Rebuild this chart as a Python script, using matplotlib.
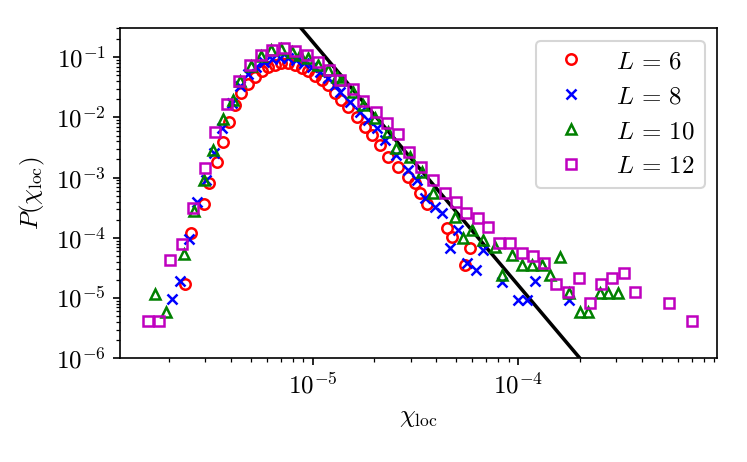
import numpy as np
import matplotlib
matplotlib.use("Agg")
import matplotlib.pyplot as plt

plt.rcParams['font.family'] = 'serif'
plt.rcParams['font.serif'] = ['cmr10']
plt.rcParams['mathtext.fontset'] = 'cm'
plt.rcParams['axes.formatter.use_mathtext'] = True
plt.rcParams['font.size'] = 12

# L = 6
x_L6 = [2.39e-6, 2.55e-6, 2.97e-6, 3.14e-6, 3.41e-6, 3.65e-6, 3.92e-6, 4.20e-6, 4.51e-6, 4.86e-6,
        5.24e-6, 5.65e-6, 6.08e-6, 6.55e-6, 7.06e-6, 7.60e-6, 8.20e-6, 8.84e-6, 9.52e-6, 1.026e-5,
        1.106e-5, 1.19e-5, 1.28e-5, 1.38e-5, 1.49e-5, 1.64e-5, 1.80e-5, 1.94e-5, 2.13e-5, 2.33e-5,
        2.61e-5, 2.92e-5, 3.15e-5, 3.33e-5, 3.59e-5, 4.50e-5, 4.75e-5, 5.52e-5, 5.84e-5]
y_L6 = [1.69e-5, 1.19e-4, 3.61e-4, 8.26e-4, 1.85e-3, 3.96e-3, 8.51e-3, 1.61e-2, 2.52e-2, 3.60e-2,
        4.76e-2, 5.92e-2, 6.82e-2, 7.45e-2, 7.95e-2, 7.95e-2, 7.45e-2, 6.71e-2, 5.92e-2, 4.95e-2,
        4.20e-2, 3.47e-2, 2.52e-2, 1.95e-2, 1.51e-2, 1.03e-2, 7.03e-3, 5.12e-3, 3.49e-3, 2.23e-3,
        1.52e-3, 1.04e-3, 8.07e-4, 5.51e-4, 3.66e-4, 1.46e-4, 1.03e-4, 3.55e-5, 6.72e-5]

# L = 8
x_L8 = [2.07e-6, 2.26e-6, 2.50e-6, 2.74e-6, 3.02e-6, 3.31e-6, 3.61e-6, 4.05e-6, 4.43e-6, 4.84e-6,
        5.30e-6, 5.79e-6, 6.34e-6, 6.93e-6, 7.58e-6, 8.30e-6, 9.07e-6, 9.92e-6, 1.086e-5, 1.187e-5,
        1.28e-5, 1.36e-5, 1.52e-5, 1.70e-5, 1.86e-5, 2.05e-5, 2.25e-5, 2.56e-5, 2.92e-5, 3.21e-5,
        3.52e-5, 3.94e-5, 4.25e-5, 4.66e-5, 5.12e-5, 5.62e-5, 6.24e-5, 6.78e-5, 8.33e-5, 1.003e-4,
        1.10e-4, 1.21e-4, 1.76e-4]
y_L8 = [9.55e-6, 1.92e-5, 9.48e-5, 3.99e-4, 9.16e-4, 2.57e-3, 6.69e-3, 1.74e-2, 3.34e-2, 5.28e-2,
        6.90e-2, 8.35e-2, 9.37e-2, 9.73e-2, 9.73e-2, 9.02e-2, 8.04e-2, 6.90e-2, 5.70e-2, 4.53e-2,
        3.47e-2, 2.68e-2, 1.83e-2, 1.23e-2, 9.08e-3, 6.62e-3, 4.23e-3, 2.38e-3, 1.34e-3, 9.16e-4,
        4.55e-4, 3.30e-4, 2.56e-4, 6.72e-5, 1.35e-4, 3.78e-5, 2.93e-5, 6.29e-5, 1.87e-5, 9.29e-6,
        9.29e-6, 1.92e-5, 9.29e-6]

# L = 10
x_L10 = [1.72e-6, 1.93e-6, 2.38e-6, 2.64e-6, 2.97e-6, 3.28e-6, 3.67e-6, 4.10e-6, 4.44e-6, 5.02e-6,
         5.62e-6, 6.31e-6, 7.06e-6, 7.90e-6, 8.67e-6, 9.52e-6, 1.065e-5, 1.19e-5, 1.31e-5, 1.38e-5,
         1.58e-5, 1.76e-5, 2.01e-5, 2.33e-5, 2.56e-5, 2.98e-5, 3.40e-5, 3.87e-5, 4.93e-5, 5.41e-5,
         5.95e-5, 6.78e-5, 7.73e-5, 8.33e-5, 9.31e-5, 1.042e-4, 1.166e-4, 1.305e-4, 1.432e-4, 1.60e-4,
         1.76e-4, 2.00e-4, 2.20e-4, 2.51e-4, 2.75e-4, 3.08e-4]
y_L10 = [1.17e-5, 5.94e-6, 5.40e-5, 2.80e-4, 9.16e-4, 2.89e-3, 9.44e-3, 1.95e-2, 4.04e-2, 7.17e-2,
         1.05e-1, 1.30e-1, 1.35e-1, 1.24e-1, 1.09e-1, 9.62e-2, 7.45e-2, 6.04e-2, 4.76e-2, 4.20e-2,
         2.68e-2, 1.61e-2, 9.70e-3, 5.81e-3, 3.08e-3, 2.23e-3, 1.26e-3, 5.51e-4, 2.25e-4, 9.85e-5,
         1.35e-4, 9.23e-5, 7.14e-5, 2.42e-5, 5.20e-5, 3.55e-5, 3.55e-5, 3.55e-5, 2.42e-5, 4.87e-5,
         1.20e-5, 5.94e-6, 5.94e-6, 1.20e-5, 1.20e-5, 1.20e-5]

# L = 12
x_L12 = [1.58e-6, 1.79e-6, 2.03e-6, 2.32e-6, 2.62e-6, 2.99e-6, 3.36e-6, 3.85e-6, 4.39e-6, 4.95e-6,
         5.62e-6, 6.38e-6, 7.26e-6, 8.25e-6, 9.35e-6, 1.065e-5, 1.20e-5, 1.36e-5, 1.58e-5, 1.76e-5,
         2.03e-5, 2.29e-5, 2.60e-5, 2.96e-5, 3.38e-5, 3.85e-5, 4.39e-5, 5.01e-5, 5.61e-5, 6.36e-5,
         7.17e-5, 8.11e-5, 9.14e-5, 1.042e-4, 1.187e-4, 1.34e-4, 1.53e-4, 1.74e-4, 1.97e-4, 2.24e-4,
         2.54e-4, 2.88e-4, 3.28e-4, 3.72e-4, 5.44e-4, 7.02e-4]
y_L12 = [4.21e-6, 4.21e-6, 4.30e-5, 7.83e-5, 3.10e-4, 1.43e-3, 5.74e-3, 1.66e-2, 4.04e-2, 7.45e-2,
         1.09e-1, 1.32e-1, 1.44e-1, 1.26e-1, 1.09e-1, 8.45e-2, 6.15e-2, 4.20e-2, 2.97e-2, 1.85e-2,
         1.23e-2, 7.95e-3, 5.32e-3, 2.67e-3, 1.48e-3, 9.16e-4, 5.46e-4, 3.87e-4, 2.59e-4, 2.14e-4,
         1.53e-4, 8.13e-5, 8.13e-5, 5.55e-5, 5.00e-5, 3.78e-5, 1.69e-5, 1.28e-5, 2.13e-5, 8.39e-6,
         1.69e-5, 2.13e-5, 2.58e-5, 1.28e-5, 8.39e-6, 4.21e-6]

# power-law guide line (slope)
fit_exponent = -4.04
fit_anchor_x, fit_anchor_y = 2.0e-4, 1.0e-6

fig = plt.figure(figsize=(747 / 150, 462 / 150), dpi=150)
ax = fig.add_axes([0.161, 0.2245, 0.799, 0.7145])

xfit = np.logspace(-6, -3, 50)
ax.plot(xfit, fit_anchor_y * (xfit / fit_anchor_x) ** fit_exponent, 'k-', lw=1.7, zorder=1)

ms = 5
mew = 1.2
ax.plot(x_L6, y_L6, 'o', ls='none', mfc='none', mec='r', ms=ms, mew=mew, label=r'$L\,=\,6$')
ax.plot(x_L8, y_L8, 'x', ls='none', color='b', ms=ms, mew=mew, label=r'$L\,=\,8$')
ax.plot(x_L10, y_L10, '^', ls='none', mfc='none', mec='g', ms=ms, mew=mew, label=r'$L\,=\,10$')
ax.plot(x_L12, y_L12, 's', ls='none', mfc='none', mec='m', ms=ms, mew=mew, label=r'$L\,=\,12$')

ax.set_xscale('log')
ax.set_yscale('log')
ax.set_xlim(1.16e-6, 9.3e-4)
ax.set_ylim(1e-6, 0.303)
ax.set_xlabel(r'$\chi_{\rm loc}$')
ax.set_ylabel(r'$P(\chi_{\rm loc})$')
ax.yaxis.set_major_locator(matplotlib.ticker.LogLocator(base=10, numticks=10))
ax.yaxis.set_minor_locator(matplotlib.ticker.LogLocator(base=10, subs=np.arange(2, 10), numticks=10))
ax.yaxis.set_minor_formatter(matplotlib.ticker.NullFormatter())

ax.legend(loc='upper right')

fig.savefig('out.png', dpi=150)
